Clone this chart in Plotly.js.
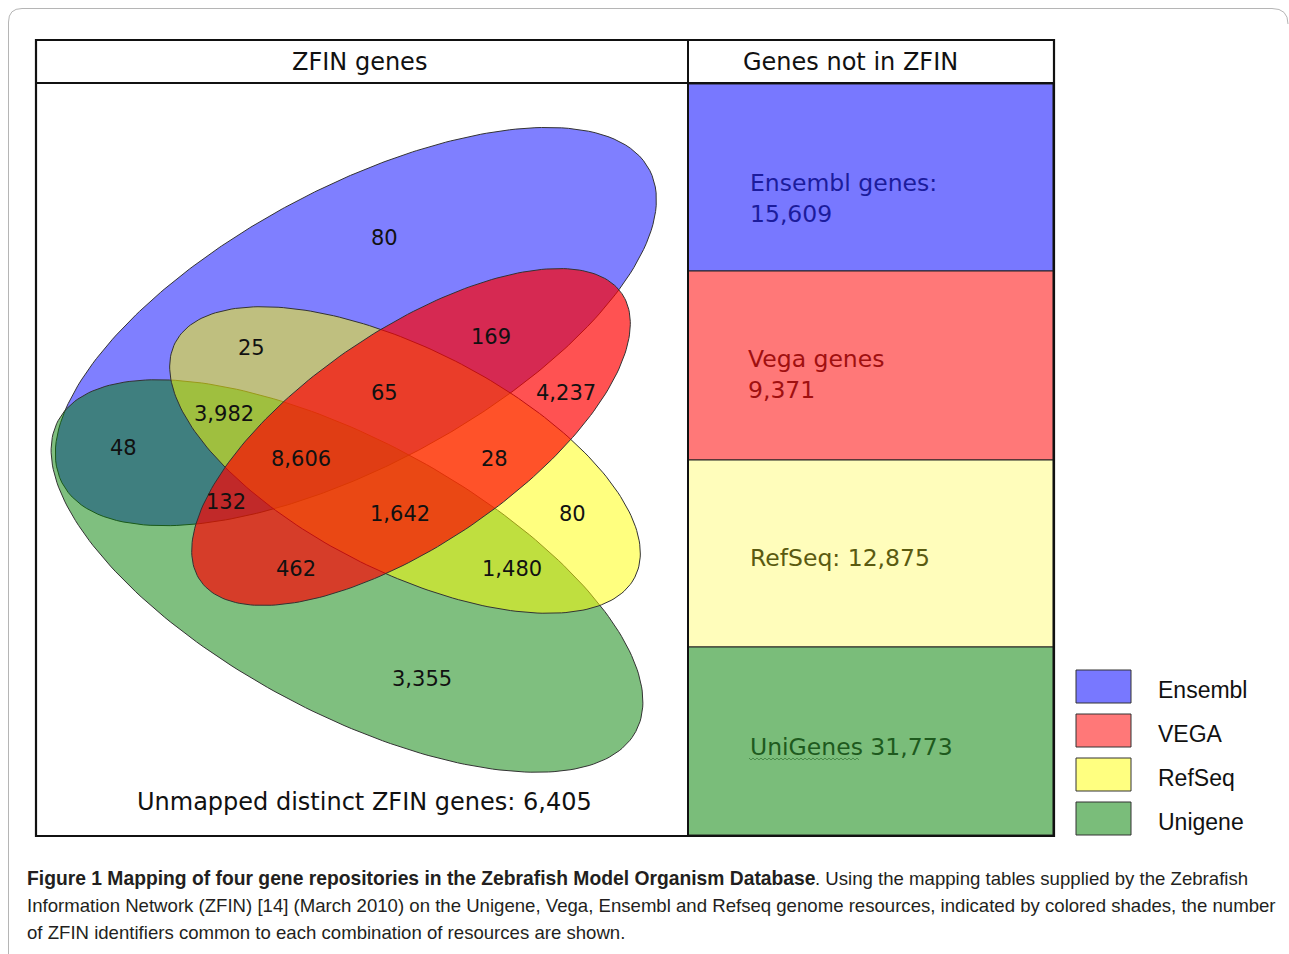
<!DOCTYPE html>
<html>
<head>
<meta charset="utf-8">
<script src="https://cdn.plot.ly/plotly-3.0.1.min.js"></script>
<style>html,body{margin:0;padding:0;background:#fff;}#chart{width:1289px;height:954px;}</style>
</head>
<body>
<div id="chart"></div>
<script>
// ---------- DATA ----------
const setNames = ['Ensembl', 'VEGA', 'RefSeq', 'Unigene'];
const regionLabels = ['80', '169', '25', '65', '4,237', '3,982', '48', '8,606', '28', '132', '1,642', '80', '462', '1,480', '3,355'];
const notInZfinNames = ['Ensembl genes:', 'Vega genes', 'RefSeq:', 'UniGenes'];
const notInZfinValues = ['15,609', '9,371', '12,875', '31,773'];
const unmappedLabel = 'Unmapped distinct ZFIN genes: 6,405';
const headerLabels = ['ZFIN genes', 'Genes not in ZFIN'];
const captionBold = 'Figure 1 Mapping of four gene repositories in the Zebrafish Model Organism Database';
const captionLines = [
  '. Using the mapping tables supplied by the Zebrafish',
  'Information Network (ZFIN) [14] (March 2010) on the Unigene, Vega, Ensembl and Refseq genome resources, indicated by colored shades, the number',
  'of ZFIN identifiers common to each combination of resources are shown.'
];

// ---------- GEOMETRY / STYLE ----------
// ellipses in page pixel space: [cx, cy, a, b, tilt(deg, + rises to right)]
const ellipseGeom = {
  Unigene: [347, 576, 328, 136, -28.3],
  RefSeq:  [405, 460, 258, 111, -27],
  VEGA:    [411, 437, 255, 107, 34.2]
};
// Ensembl outline: traced boundary points, fitted with a conic
const ensemblOutline = [[513,129],[553,127],[627,140],[653,177],[658,200],[647,230],[617,292],[500,400],[413,453],[280,508],[190,525],[130,525],[103,513],[60,430],[80,387],[140,307],[240,230],[373,173]];
const ellipseFill = {
  Ensembl: 'rgba(0,0,255,0.5)',
  Unigene: 'rgba(0,128,0,0.5)',
  RefSeq:  'rgba(255,255,0,0.5)',
  VEGA:    'rgba(255,0,0,0.68)'
};
const drawOrder = ['Ensembl', 'Unigene', 'RefSeq', 'VEGA'];
const regionPos = [[384,238],[491,337],[251,348],[384,393],[566,393],[224,414],[123,448],[301,459],[494,459],[226,502],[400,514],[572,514],[296,569],[512,569],[422,679]];
const panelFill = ['#7878ff', '#ff7878', '#fffdbb', '#7abd7a'];
const panelText = ['#1c1c9c', '#a01010', '#5a5a10', '#1e5a1e'];
const panelEdges = [84, 271, 460, 647, 835];
const panelTextPos = [[748,198,'two'],[746,374,'two'],[748,558,'one'],[748,747,'one']];
const legendFill = ['#7878ff', '#ff7878', '#ffff80', '#7abd7a'];
const legendTop = [670, 714, 758, 802];

const FONT = 'DejaVu Sans, Verdana, sans-serif';

// ---------- BUILD ----------
function ellipsePts(g) {
  const [cx, cy, a, b, deg] = g;
  const p = deg * Math.PI / 180;
  const xs = [], ys = [];
  for (let i = 0; i <= 240; i++) {
    const t = 2 * Math.PI * i / 240;
    const u = a * Math.cos(t), v = b * Math.sin(t);
    xs.push(cx + u * Math.cos(p) - v * Math.sin(p));
    ys.push(cy - (u * Math.sin(p) + v * Math.cos(p)));
  }
  return [xs, ys];
}

function solve(M, r) {
  const n = r.length;
  const A = M.map((row, i) => row.concat([r[i]]));
  for (let c = 0; c < n; c++) {
    let piv = c;
    for (let k = c + 1; k < n; k++) if (Math.abs(A[k][c]) > Math.abs(A[piv][c])) piv = k;
    [A[c], A[piv]] = [A[piv], A[c]];
    for (let k = 0; k < n; k++) {
      if (k === c) continue;
      const f = A[k][c] / A[c][c];
      for (let j = c; j <= n; j++) A[k][j] -= f * A[c][j];
    }
  }
  return A.map((row, i) => row[n] / row[i]);
}

function conicPts(pts) {
  const mx = 350, my = 330, s = 300;
  const M = [0,1,2,3,4].map(() => [0,0,0,0,0]);
  const rhs = [0,0,0,0,0];
  pts.forEach(([px, py]) => {
    const x = (px - mx) / s, y = (py - my) / s;
    const row = [x*x, x*y, y*y, x, y];
    for (let i = 0; i < 5; i++) { rhs[i] += row[i]; for (let j = 0; j < 5; j++) M[i][j] += row[i] * row[j]; }
  });
  const [A, B, C, D, E] = solve(M, rhs);
  const det = 4*A*C - B*B;
  const x0 = (-2*C*D + B*E) / det, y0 = (-2*A*E + B*D) / det;
  const F0 = A*x0*x0 + B*x0*y0 + C*y0*y0 + D*x0 + E*y0 - 1;
  const xs = [], ys = [];
  for (let i = 0; i <= 360; i++) {
    const t = 2 * Math.PI * i / 360;
    const dx = Math.cos(t), dy = Math.sin(t);
    const q = A*dx*dx + B*dx*dy + C*dy*dy;
    const r = Math.sqrt(-F0 / q);
    xs.push(mx + s * (x0 + r*dx));
    ys.push(my + s * (y0 + r*dy));
  }
  return [xs, ys];
}

const traces = drawOrder.map(name => {
  const [xs, ys] = name === 'Ensembl' ? conicPts(ensemblOutline) : ellipsePts(ellipseGeom[name]);
  return {
    type: 'scatter', mode: 'lines', x: xs, y: ys, fill: 'toself',
    fillcolor: ellipseFill[name], line: {color: '#333', width: 1},
    hoverinfo: 'skip', showlegend: false, name: name
  };
});

const shapes = [];
const annotations = [];

// outer rounded frame
shapes.push({type: 'path', path: 'M 8.5,954 L 8.5,22 Q 8.5,8.5 22,8.5 L 1272,8.5 Q 1288,8.5 1288,24',
  line: {color: '#b5b5b5', width: 1}, xref: 'x', yref: 'y'});

// right panel cells
for (let i = 0; i < 4; i++) {
  shapes.push({type: 'rect', xref: 'x', yref: 'y', x0: 688, x1: 1053, y0: panelEdges[i], y1: panelEdges[i + 1],
    fillcolor: panelFill[i], line: {color: '#222', width: 1}, layer: 'below'});
  const [tx, ty, mode] = panelTextPos[i];
  const txt = mode === 'two' ? notInZfinNames[i] + '<br>' + notInZfinValues[i] : notInZfinNames[i] + ' ' + notInZfinValues[i];
  annotations.push({x: tx, y: ty, xref: 'x', yref: 'y', text: txt, showarrow: false, xanchor: 'left', yanchor: 'middle', align: 'left',
    font: {family: FONT, size: 23.5, color: panelText[i]}});
}
// spell-check squiggle under "UniGenes"
let sq = 'M 749,758';
for (let x = 751, k = 0; x <= 859; x += 2, k++) sq += ' L ' + x + ',' + (k % 2 ? 758 : 760);
shapes.push({type: 'path', path: sq, xref: 'x', yref: 'y', line: {color: '#3f7f3f', width: 0.8}});

// main frame
shapes.push({type: 'rect', xref: 'x', yref: 'y', x0: 36, x1: 1054, y0: 40, y1: 836, line: {color: '#111', width: 2.2}});
shapes.push({type: 'line', xref: 'x', yref: 'y', x0: 36, x1: 1054, y0: 83, y1: 83, line: {color: '#111', width: 2.2}});
shapes.push({type: 'line', xref: 'x', yref: 'y', x0: 688, x1: 688, y0: 40, y1: 836, line: {color: '#111', width: 2}});

// headers
annotations.push({x: 359, y: 62, xref: 'x', yref: 'y', text: headerLabels[0], showarrow: false, xanchor: 'center', yanchor: 'middle',
  font: {family: FONT, size: 24, color: '#111'}});
annotations.push({x: 850, y: 62, xref: 'x', yref: 'y', text: headerLabels[1], showarrow: false, xanchor: 'center', yanchor: 'middle',
  font: {family: FONT, size: 24, color: '#111'}});

// region labels
regionLabels.forEach((t, i) => {
  annotations.push({x: regionPos[i][0], y: regionPos[i][1], xref: 'x', yref: 'y', text: t, showarrow: false,
    xanchor: 'center', yanchor: 'middle', font: {family: FONT, size: 21, color: '#111'}});
});

// unmapped
annotations.push({x: 364, y: 802, xref: 'x', yref: 'y', text: unmappedLabel, showarrow: false, xanchor: 'center', yanchor: 'middle',
  font: {family: FONT, size: 24, color: '#111'}});

// legend
setNames.forEach((n, i) => {
  shapes.push({type: 'rect', xref: 'x', yref: 'y', x0: 1076, x1: 1131, y0: legendTop[i], y1: legendTop[i] + 33,
    fillcolor: legendFill[i], line: {color: '#333', width: 1}});
  annotations.push({x: 1156, y: legendTop[i] + 20, xref: 'x', yref: 'y', text: n, showarrow: false, xanchor: 'left', yanchor: 'middle',
    font: {family: 'Liberation Sans, Arial, sans-serif', size: 23, color: '#111'}});
});

// caption
const capFont = {family: 'Liberation Sans, Arial, sans-serif', size: 18.6, color: '#231f20'};
annotations.push({x: 25, y: 878, xref: 'x', yref: 'y', text: '<b>' + captionBold + '</b>', showarrow: false,
  xanchor: 'left', yanchor: 'middle', font: {family: 'Liberation Sans, Arial, sans-serif', size: 19.3, color: '#231f20'}});
annotations.push({x: 813, y: 878, xref: 'x', yref: 'y', text: captionLines[0], showarrow: false, xanchor: 'left', yanchor: 'middle', font: capFont});
annotations.push({x: 25, y: 905, xref: 'x', yref: 'y', text: captionLines[1], showarrow: false, xanchor: 'left', yanchor: 'middle', font: capFont});
annotations.push({x: 25, y: 932, xref: 'x', yref: 'y', text: captionLines[2], showarrow: false, xanchor: 'left', yanchor: 'middle', font: capFont});

const layout = {
  width: 1289, height: 954,
  margin: {l: 0, r: 0, t: 0, b: 0, pad: 0},
  paper_bgcolor: '#fff', plot_bgcolor: '#fff',
  xaxis: {range: [0, 1289], visible: false, fixedrange: true},
  yaxis: {range: [954, 0], visible: false, fixedrange: true},
  showlegend: false,
  shapes: shapes,
  annotations: annotations
};

Plotly.newPlot('chart', traces, layout, {displayModeBar: false, staticPlot: true});
</script>
</body>
</html>
